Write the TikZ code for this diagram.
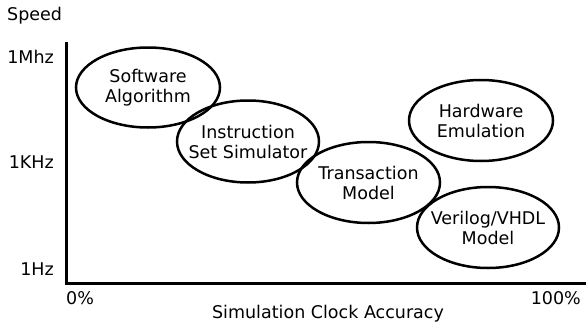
\documentclass[tikz,border=0pt]{standalone}
\usepackage{fontspec}
\setmainfont{DejaVu Sans}
\usetikzlibrary{shapes.geometric}
\tikzset{
  blobtext/.style={inner sep=0pt, align=center, font=\fontsize{17.5}{20}\selectfont},
  blob/.style={ellipse, draw=black, line width=2.5pt, inner sep=0pt,
    label={[blobtext]center:#1}},
  axislabel/.style={inner sep=0pt, font=\fontsize{17.5}{20}\selectfont},
  axisline/.style={line width=3pt}
}
\begin{document}
\begin{tikzpicture}[x=1pt, y=-1pt]
  \useasboundingbox (0,0) rectangle (586,324);
  % axes
  \coordinate (origin) at (66,283);
  \coordinate (ytop) at (66,42);
  \coordinate (xend) at (586,283);
  \draw[axisline] (ytop) -- (origin |- 0,284.5);
  \draw[axisline] (65,283) -- (xend);
  % axis labels
  \node[axislabel, anchor=west] (speed) at (7,16) {Speed};
  \node[axislabel, anchor=east] (mhz) at (54,57) {1Mhz};
  \node[axislabel, anchor=east] (khz) at (54,162) {1KHz};
  \node[axislabel, anchor=east] (hz) at (54,269) {1Hz};
  \node[axislabel, anchor=west] (zero) at (66,298) {0\%};
  \node[axislabel, anchor=east] (hundred) at (581,298) {100\%};
  \node[axislabel] (acc) at (328,314) {Simulation Clock Accuracy};
  % simulation approaches
  \node[blob={Software\\Algorithm}, minimum width=144pt, minimum height=80pt] (sw) at (148,87.5) {};
  \node[blob={Instruction\\Set Simulator}, minimum width=142pt, minimum height=82pt] (iss) at (248,141.5) {};
  \node[blob={Transaction\\Model}, minimum width=143pt, minimum height=81pt] (tm) at (368.5,182.5) {};
  \node[blob={Hardware\\Emulation}, minimum width=144pt, minimum height=81pt] (hw) at (481,120.5) {};
  \node[blob={Verilog/VHDL\\Model}, minimum width=142pt, minimum height=81pt] (rtl) at (488,227.5) {};
\end{tikzpicture}
\end{document}
